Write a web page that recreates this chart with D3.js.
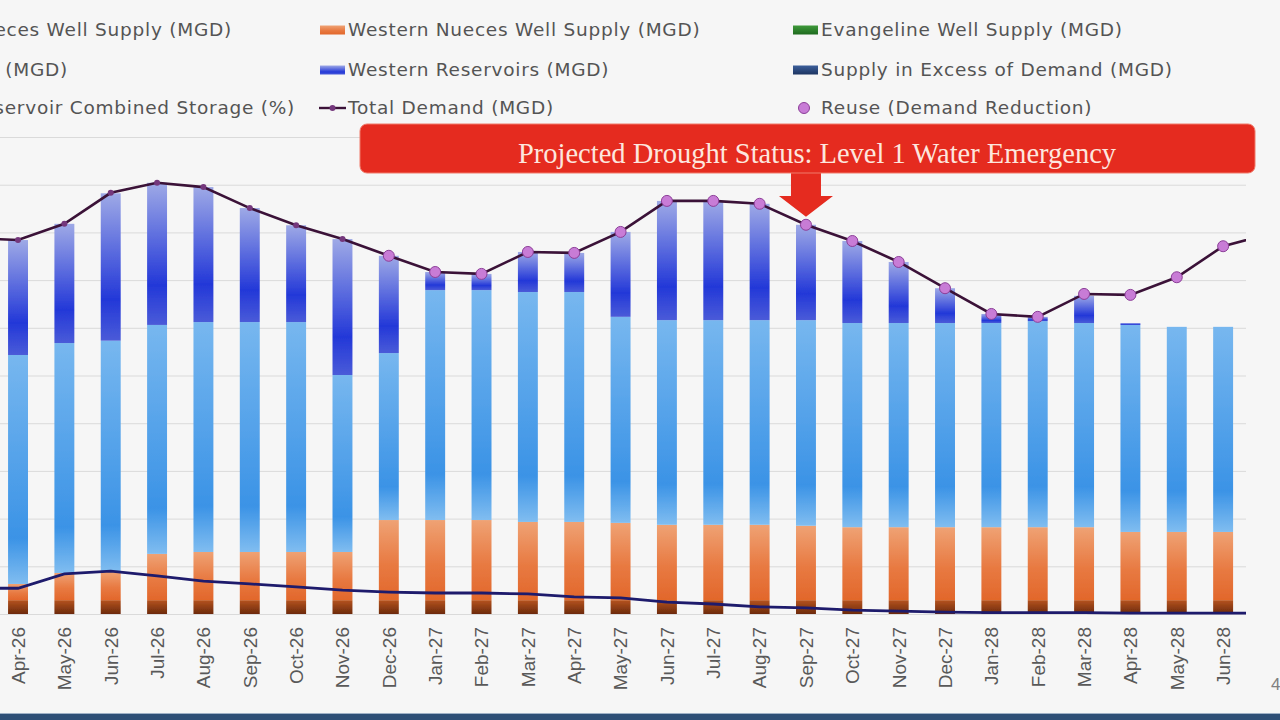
<!DOCTYPE html>
<html>
<head>
<meta charset="utf-8">
<title>Projected Water Supply and Demand</title>
<script src="https://cdn.jsdelivr.net/npm/d3@7"></script>
<style>
    body { margin: 0; background: #f6f6f6; overflow: hidden; }
    svg { display: block; }
    .legend text { font-family: "DejaVu Sans", sans-serif; font-size: 18.5px; fill: #545454; letter-spacing: 0.75px; }
    .x-axis text { font-family: "Liberation Sans", Arial, sans-serif; font-size: 19px; fill: #595959; }
    .grid line { stroke: #dadada; stroke-width: 1; }
</style>
</head>
<body>
<div id="chart"></div>
<script>
// months on the category axis (Mar-26 and Jul-28 fall outside the visible plot)
const months = ["Mar-26","Apr-26","May-26","Jun-26","Jul-26","Aug-26","Sep-26","Oct-26","Nov-26","Dec-26",
    "Jan-27","Feb-27","Mar-27","Apr-27","May-27","Jun-27","Jul-27","Aug-27","Sep-27","Oct-27","Nov-27","Dec-27",
    "Jan-28","Feb-28","Mar-28","Apr-28","May-28","Jun-28","Jul-28"];

// stacked supply, MGD (null = no bar)
const easternWells = [null,2.9,2.9,2.9,2.9,2.9,2.9,2.9,2.9,2.9,2.9,2.9,2.9,2.9,2.9,2.9,2.9,2.9,2.9,2.9,2.9,2.9,2.9,2.9,2.9,2.9,2.9,2.9,null];
const westernWells = [null,3.4,5.7,6.0,9.7,10.1,10.1,10.1,10.1,16.8,16.8,16.8,16.4,16.4,16.2,15.8,15.8,15.8,15.6,15.3,15.3,15.3,15.3,15.3,15.3,14.3,14.3,14.3,null];
const evangelineWells = [null,0,0,0,0,0,0,0,0,0,0,0,0,0,0,0,0,0,0,0,0,0,0,0,0,0,0,0,null];
const texanaSupply = [null,48.0,48.2,48.4,48.0,48.2,48.2,48.2,37.1,35.0,48.2,48.2,48.2,48.2,43.2,42.9,42.9,42.9,43.1,42.8,42.8,42.8,42.8,43.2,42.8,43.4,43.0,43.0,null];
const westernReservoirs = [null,24.1,25.0,30.9,29.8,28.3,23.9,20.3,28.5,20.4,3.8,3.4,8.4,8.2,17.8,25.0,25.0,24.4,20.0,17.2,12.8,7.3,1.9,0.9,5.7,0.4,0,0,null];
const excessSupply = [null,0,0,0,0,0,0,0,0,0,0,0,0,0,0,0,0,0,0,0,0,0,0,0,0,0,0,0,null];

// lines
const totalDemand = [78.8,78.4,81.8,88.3,90.4,89.5,85.1,81.5,78.6,75.1,71.7,71.3,75.9,75.7,80.1,86.6,86.6,86.0,81.6,78.2,73.8,68.3,62.9,62.3,67.1,66.9,70.6,77.1,79.7];
const reuse = [null,null,null,null,null,null,null,null,null,75.1,71.7,71.3,75.9,75.7,80.1,86.6,86.6,86.0,81.6,78.2,73.8,68.3,62.9,62.3,67.1,66.9,70.6,77.1,null];
const combinedStorage = [5.4,5.4,8.4,9.0,8.0,6.9,6.3,5.7,5.0,4.6,4.4,4.4,4.2,3.6,3.4,2.5,2.1,1.5,1.3,0.8,0.6,0.4,0.3,0.3,0.3,0.2,0.2,0.2,0.2];

const calloutText = "Projected Drought Status: Level 1 Water Emergency";
const calloutMonth = "Sep-27";

const stackKeys = ["easternWells","westernWells","evangelineWells","texanaSupply","westernReservoirs","excessSupply"];
const seriesValues = { easternWells, westernWells, evangelineWells, texanaSupply, westernReservoirs, excessSupply };

const W = 1280, H = 720;
const svg = d3.select("#chart").append("svg").attr("width", W).attr("height", H);

// gradients, one per series, stretched over each bar
const gradients = {
    easternWells: [[0, "#b5531f"], [1, "#6c290b"]],
    westernWells: [[0, "#efa274"], [0.55, "#e87a42"], [1, "#e2672b"]],
    evangelineWells: [[0, "#3f9a3b"], [1, "#1e6a1e"]],
    texanaSupply: [[0, "#77b7ef"], [0.8, "#3b93e6"], [1, "#80bdf0"]],
    westernReservoirs: [[0, "#9ea9e6"], [0.72, "#2338d8"], [1, "#4a5bd8"]],
    excessSupply: [[0, "#3c5f9b"], [1, "#1d3461"]]
};
const defs = svg.append("defs");
Object.entries(gradients).forEach(([k, stops]) => {
    const g = defs.append("linearGradient").attr("id", "g-" + k)
        .attr("x1", 0).attr("y1", 0).attr("x2", 0).attr("y2", 1);
    stops.forEach(s => g.append("stop").attr("offset", s[0]).attr("stop-color", s[1]));
});
defs.append("filter").attr("id", "soft").append("feGaussianBlur").attr("stdDeviation", 0.6);

const plotLeft = -51.5, plotRight = 1246, step = 46.35;
const x = d3.scaleBand().domain(months)
    .range([plotLeft, plotLeft + step * months.length])
    .paddingInner(0.57).paddingOuter(0.285);
const y = d3.scaleLinear().domain([0, 100]).range([614, 137]);
const ySec = d3.scaleLinear().domain([0, 100]).range([614, 137]);
const cx = m => x(m) + x.bandwidth() / 2;

defs.append("clipPath").attr("id", "plot-clip").append("rect")
    .attr("x", plotLeft).attr("y", 0).attr("width", plotRight - plotLeft).attr("height", H);

// gridlines
svg.append("g").attr("class", "grid")
    .attr("transform", `translate(${plotLeft},0)`)
    .call(d3.axisLeft(y).ticks(10).tickSize(-(plotRight - plotLeft)).tickFormat(""))
    .call(g => g.select(".domain").remove());

const plot = svg.append("g").attr("clip-path", "url(#plot-clip)");

// stacked bars
const rows = months.map((m, i) => {
    const r = { month: m };
    stackKeys.forEach(k => r[k] = seriesValues[k][i] || 0);
    r.hasBar = easternWells[i] != null;
    return r;
});
const stacked = d3.stack().keys(stackKeys)(rows);
plot.append("g").attr("filter", "url(#soft)")
    .selectAll("g").data(stacked).join("g")
    .attr("fill", s => `url(#g-${s.key})`)
    .selectAll("rect").data(s => s.filter(d => d.data.hasBar && d[1] - d[0] > 0)).join("rect")
    .attr("x", d => x(d.data.month))
    .attr("width", x.bandwidth())
    .attr("y", d => y(d[1]))
    .attr("height", d => y(d[0]) - y(d[1]));

// reservoir storage line
const idx = months.map((m, i) => i);
plot.append("path").datum(idx)
    .attr("fill", "none").attr("stroke", "#1e1b6c").attr("stroke-width", 2.8)
    .attr("d", d3.line().x(i => cx(months[i])).y(i => ySec(combinedStorage[i])));

// total demand line
plot.append("path").datum(idx)
    .attr("fill", "none").attr("stroke", "#3b1238").attr("stroke-width", 2.6)
    .attr("d", d3.line().x(i => cx(months[i])).y(i => y(totalDemand[i])));
plot.append("g").selectAll("circle").data(idx).join("circle")
    .attr("cx", i => cx(months[i])).attr("cy", i => y(totalDemand[i]))
    .attr("r", 3).attr("fill", "#74377c");

// reuse markers
plot.append("g").selectAll("circle").data(idx.filter(i => reuse[i] != null)).join("circle")
    .attr("cx", i => cx(months[i])).attr("cy", i => y(reuse[i]))
    .attr("r", 5.5).attr("fill", "#c87cd6").attr("stroke", "#8c3e98").attr("stroke-width", 1);

// x axis labels
const barMonths = months.filter((m, i) => easternWells[i] != null);
svg.append("g").attr("class", "x-axis")
    .attr("transform", "translate(0,614)")
    .call(d3.axisBottom(x).tickValues(barMonths).tickSize(0))
    .call(g => g.select(".domain").remove())
    .selectAll("text")
    .attr("transform", "rotate(-90)")
    .attr("text-anchor", "end")
    .attr("x", -13).attr("y", 0).attr("dy", "0.36em");

// legend
const legendItems = [
    { name: "Eastern Nueces Well Supply (MGD)", key: "easternWells", col: 0, row: 0 },
    { name: "Western Nueces Well Supply (MGD)", key: "westernWells", col: 1, row: 0 },
    { name: "Evangeline Well Supply (MGD)", key: "evangelineWells", col: 2, row: 0 },
    { name: "Lake Texana (MGD)", key: "texanaSupply", col: 0, row: 1 },
    { name: "Western Reservoirs (MGD)", key: "westernReservoirs", col: 1, row: 1 },
    { name: "Supply in Excess of Demand (MGD)", key: "excessSupply", col: 2, row: 1 },
    { name: "Reservoir Combined Storage (%)", key: "storage", col: 0, row: 2 },
    { name: "Total Demand (MGD)", key: "demand", col: 1, row: 2 },
    { name: "Reuse (Demand Reduction)", key: "reuse", col: 2, row: 2 }
];
const colText = [232, 348, 821];
const col0End = [232, 68, 295];
const rowY = [30, 70, 108];
const legend = svg.append("g").attr("class", "legend");
legendItems.forEach(it => {
    const g = legend.append("g");
    const ty = rowY[it.row];
    const t = g.append("text").attr("y", ty).attr("dy", "0.35em").text(it.name);
    let sx;
    if (it.col === 0) {
        t.attr("x", col0End[it.row]).attr("text-anchor", "end");
        sx = col0End[it.row] - t.node().getComputedTextLength() - 28;
    } else {
        t.attr("x", colText[it.col]);
        sx = colText[it.col] - 28;
    }
    if (it.key === "demand" || it.key === "storage") {
        const c = it.key === "demand" ? "#3b1238" : "#1e1b6c";
        g.append("line").attr("x1", sx - 1).attr("x2", sx + 26).attr("y1", ty).attr("y2", ty)
            .attr("stroke", c).attr("stroke-width", 2.4);
        if (it.key === "demand") g.append("circle").attr("cx", sx + 12.5).attr("cy", ty).attr("r", 3).attr("fill", "#74377c");
    } else if (it.key === "reuse") {
        g.append("circle").attr("cx", sx + 11).attr("cy", ty).attr("r", 5.5)
            .attr("fill", "#c87cd6").attr("stroke", "#8c3e98");
    } else {
        g.append("rect").attr("x", sx).attr("y", ty - 4.5).attr("width", 25).attr("height", 9)
            .attr("fill", `url(#g-${it.key})`);
    }
});

// drought status callout pointing at the month
const ax = cx(calloutMonth);
const tipY = y(totalDemand[months.indexOf(calloutMonth)]) - 8;
const callout = svg.append("g");
callout.append("path")
    .attr("d", `M${ax - 15},170 L${ax + 15},170 L${ax + 15},196 L${ax + 27},196 L${ax},${tipY} L${ax - 27},196 L${ax - 15},196 Z`)
    .attr("fill", "#e52b1f");
callout.append("rect").attr("x", 360).attr("y", 124).attr("width", 895).attr("height", 49).attr("rx", 7)
    .attr("fill", "#e52b1f").attr("stroke", "#f07a6a").attr("stroke-width", 1);
callout.append("text").attr("x", 817).attr("y", 163).attr("text-anchor", "middle")
    .attr("font-family", "Liberation Serif, Times New Roman, serif").attr("font-size", 28.5)
    .attr("fill", "#fde6de").text(calloutText);

// slide page number and bottom frame
svg.append("text").attr("x", 1271).attr("y", 690)
    .attr("font-family", "Liberation Sans, Arial, sans-serif").attr("font-size", 17).attr("fill", "#808080").text("4");
svg.append("rect").attr("x", 0).attr("y", 713).attr("width", W).attr("height", 1).attr("fill", "#9fb1c6");
svg.append("rect").attr("x", 0).attr("y", 714).attr("width", W).attr("height", 6).attr("fill", "#2e4f76");
</script>
</body>
</html>
